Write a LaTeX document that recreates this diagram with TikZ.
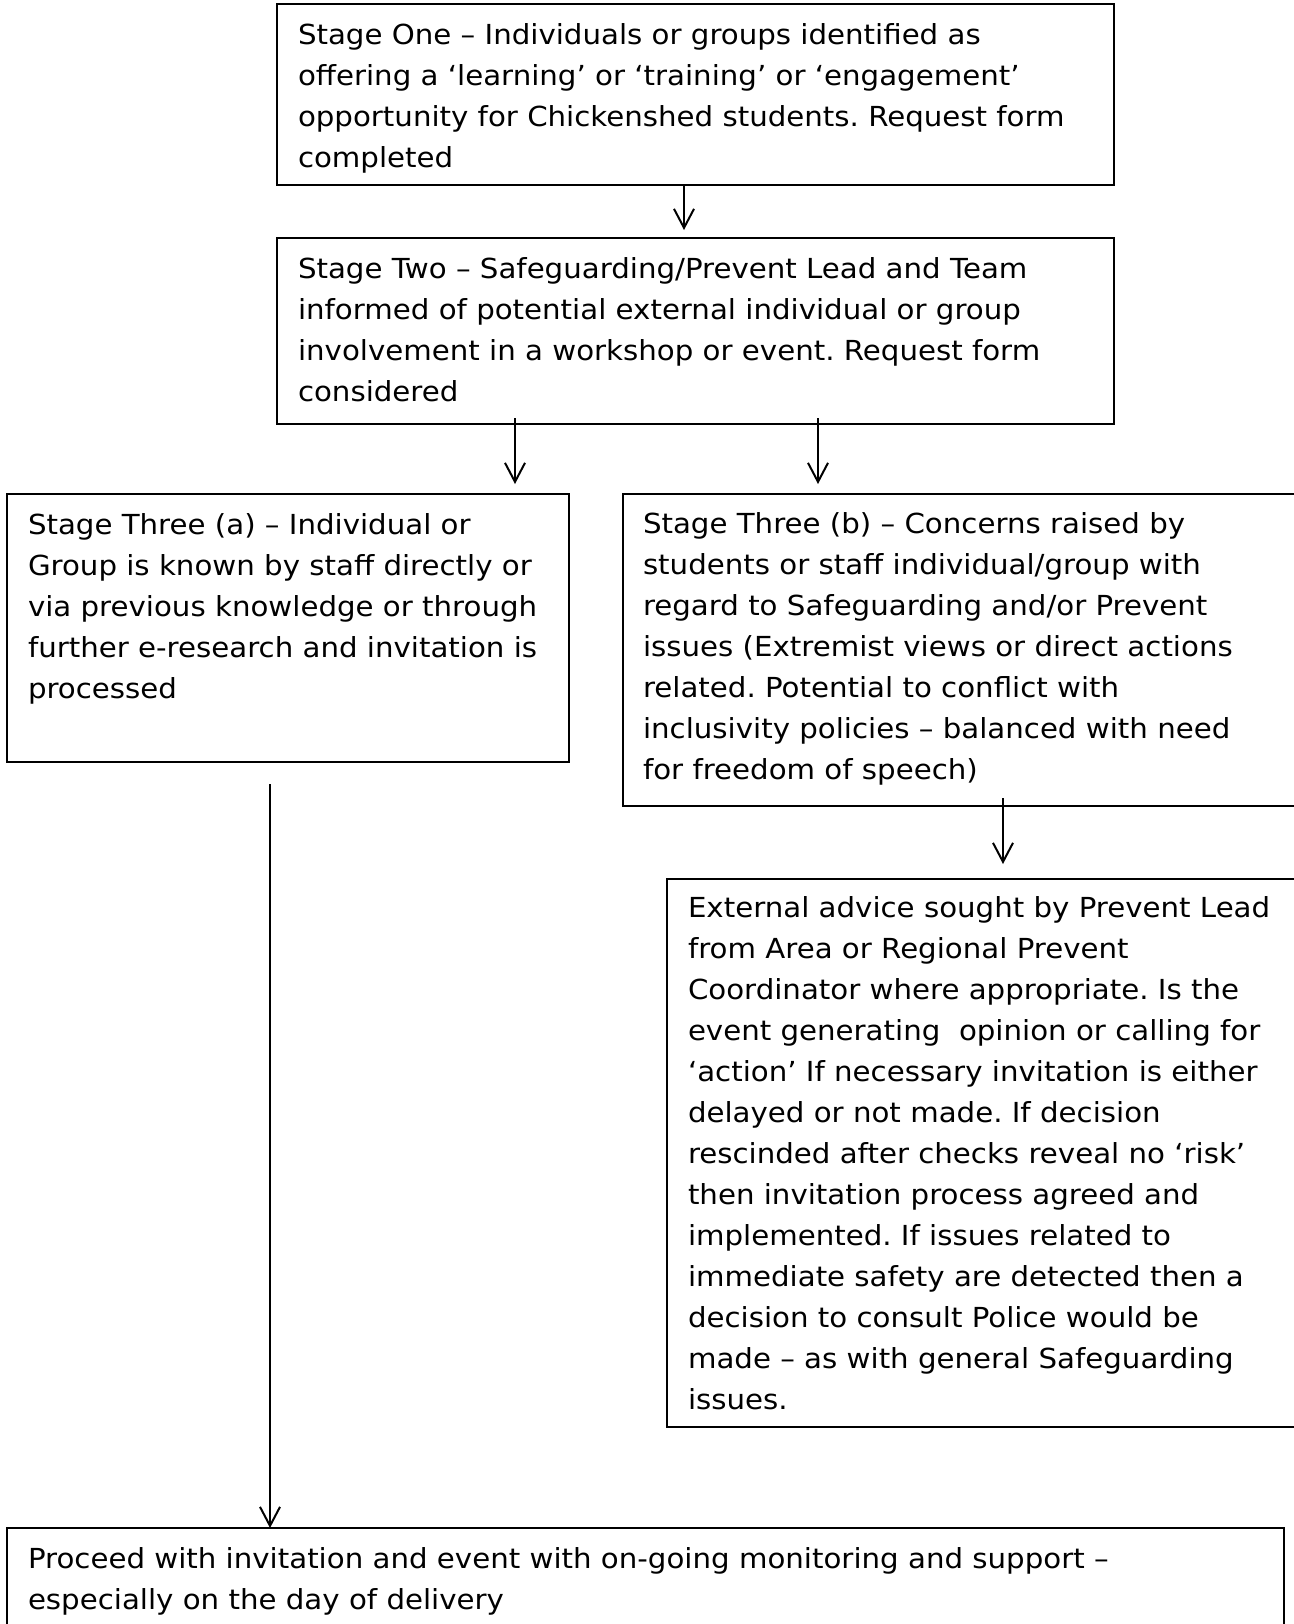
\documentclass[tikz,border=0pt]{standalone}
\usepackage{fontspec}
\setmainfont{DejaVu Sans}[FakeStretch=1.06]
\usetikzlibrary{arrows.meta}
\newcommand\firstline{\rule{0pt}{11pt}}
\frenchspacing
\begin{document}
\begin{tikzpicture}[x=0.5pt,y=-0.5pt,
  box/.style={draw, line width=1pt, inner sep=0pt, outer sep=0pt, anchor=north west},
  txt/.style={anchor=north west, inner sep=0pt, outer sep=0pt, align=left,
    font=\fontsize{13.8pt}{20.5pt}\selectfont\frenchspacing},
  arr/.style={line width=1pt, -{Straight Barb[length=9.5pt,width=10pt,line width=1pt]}}
]
\useasboundingbox (0,0) rectangle (1294,1624);
\clip (0,0) rectangle (1294,1624);

% boxes
\node[box, minimum width=418.5pt, minimum height=90.5pt] (b1) at (277,4) {};
\node[box, minimum width=418.5pt, minimum height=93pt] (b2) at (277,238) {};
\node[box, minimum width=281pt, minimum height=134pt] (b3a) at (7,494) {};
\node[box, minimum width=348.5pt, minimum height=156pt] (b3b) at (623,494) {};
\node[box, minimum width=326.5pt, minimum height=274pt] (b4) at (667,879) {};
\node[box, minimum width=638.5pt, minimum height=56pt] (b5) at (7,1528) {};

% texts
\node[txt] (t1) at ([shift={(21,18)}]b1.north west) {\firstline Stage One – Individuals or groups identified as\\
offering a ‘learning’ or ‘training’ or ‘engagement’\\
opportunity for Chickenshed students. Request form\\
completed};
\node[txt] (t2) at ([shift={(21,18)}]b2.north west) {\firstline Stage Two – Safeguarding/Prevent Lead and Team\\
informed of potential external individual or group\\
involvement in a workshop or event. Request form\\
considered};
\node[txt] (t3a) at ([shift={(21,18)}]b3a.north west) {\firstline Stage Three (a) – Individual or\\
Group is known by staff directly or\\
via previous knowledge or through\\
further e-research and invitation is\\
processed};
\node[txt] (t3b) at ([shift={(20,17)}]b3b.north west) {\firstline Stage Three (b) – Concerns raised by\\
students or staff individual/group with\\
regard to Safeguarding and/or Prevent\\
issues (Extremist views or direct actions\\
related. Potential to conflict with\\
inclusivity policies – balanced with need\\
for freedom of speech)};
\node[txt] (t4) at ([shift={(21,16)}]b4.north west) {\firstline External advice sought by Prevent Lead\\
from Area or Regional Prevent\\
Coordinator where appropriate. Is the\\
event generating\ \ opinion or calling for\\
‘action’ If necessary invitation is either\\
delayed or not made. If decision\\
rescinded after checks reveal no ‘risk’\\
then invitation process agreed and\\
implemented. If issues related to\\
immediate safety are detected then a\\
decision to consult Police would be\\
made – as with general Safeguarding\\
issues.};
\node[txt] (t5) at ([shift={(21,18)}]b5.north west) {\firstline Proceed with invitation and event with on-going monitoring and support –\\
especially on the day of delivery};

% arrow x positions
\coordinate (x1) at (684,0);
\coordinate (x2) at (515,0);
\coordinate (x3) at (818,0);
\coordinate (x4) at (1003,0);
\coordinate (s5) at (270,784);

\draw[arr, shorten >=4pt] (b1.south -| x1) -- (b2.north -| x1);
\draw[arr, shorten <=-3pt, shorten >=5pt] (b2.south -| x2) -- (b3a.north -| x2);
\draw[arr, shorten <=-3pt, shorten >=5pt] (b2.south -| x3) -- (b3b.north -| x3);
\draw[arr, shorten <=-4pt, shorten >=7.5pt] (b3b.south -| x4) -- (b4.north -| x4);
\draw[arr] (s5) -- (b5.north -| s5);
\end{tikzpicture}
\end{document}
